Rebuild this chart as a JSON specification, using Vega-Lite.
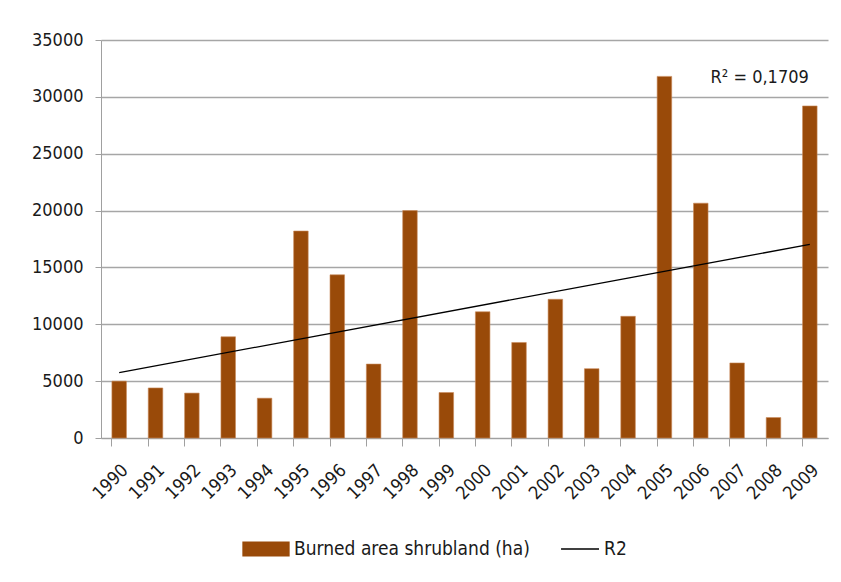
{
  "$schema": "https://vega.github.io/schema/vega-lite/v6.json",
  "width": 727,
  "height": 398,
  "autosize": {"type": "none"},
  "padding": {"left": 101, "top": 40, "right": 13, "bottom": 144},
  "background": "white",
  "datasets": {
    "bars": [
      {"year": "1990", "area": 5000},
      {"year": "1991", "area": 4400},
      {"year": "1992", "area": 3950},
      {"year": "1993", "area": 8900},
      {"year": "1994", "area": 3500},
      {"year": "1995", "area": 18200},
      {"year": "1996", "area": 14350},
      {"year": "1997", "area": 6500},
      {"year": "1998", "area": 20000},
      {"year": "1999", "area": 4000},
      {"year": "2000", "area": 11100},
      {"year": "2001", "area": 8400},
      {"year": "2002", "area": 12200},
      {"year": "2003", "area": 6100},
      {"year": "2004", "area": 10700},
      {"year": "2005", "area": 31800},
      {"year": "2006", "area": 20650},
      {"year": "2007", "area": 6600},
      {"year": "2008", "area": 1800},
      {"year": "2009", "area": 29200}
    ],
    "trend": [
      {"year": "1990", "area": 5750},
      {"year": "2009", "area": 17030}
    ],
    "label": [
      {"year": "2009", "area": 31700, "text": "R² = 0,1709"}
    ]
  },
  "config": {
    "font": "DejaVu Sans Condensed",
    "view": {"stroke": null},
    "axis": {
      "labelFont": "DejaVu Sans Condensed",
      "labelFontSize": 18,
      "labelColor": "#1a1a1a",
      "domainColor": "#a0a0a0",
      "tickColor": "#a0a0a0",
      "gridColor": "#a6a6a6",
      "title": null
    },
    "legend": {
      "labelFont": "DejaVu Sans Condensed",
      "labelFontSize": 19,
      "labelColor": "#1a1a1a",
      "labelLimit": 0
    }
  },
  "encoding": {
    "x": {
      "field": "year",
      "type": "ordinal",
      "scale": {"paddingInner": 0.6, "paddingOuter": 0.3},
      "axis": {
        "labelAngle": -45,
        "bandPosition": 0,
        "tickSize": 8,
        "grid": false,
        "labelPadding": 15,
        "title": null
      }
    },
    "y": {
      "field": "area",
      "type": "quantitative",
      "scale": {"domain": [0, 35000]},
      "axis": {
        "values": [0, 5000, 10000, 15000, 20000, 25000, 30000, 35000],
        "format": "d",
        "tickSize": 6,
        "labelPadding": 12,
        "gridWidth": 1.5,
        "title": null
      }
    }
  },
  "layer": [
    {
      "data": {"name": "bars"},
      "mark": {"type": "bar", "stroke": "#c98a5a", "strokeWidth": 0.6},
      "encoding": {
        "color": {
          "datum": "Burned area shrubland (ha)",
          "scale": {
            "domain": ["Burned area shrubland (ha)", "R2"],
            "range": ["#994a09", "#000000"]
          },
          "legend": {
            "orient": "none",
            "direction": "horizontal",
            "legendX": 141,
            "legendY": 485,
            "title": null,
            "columnPadding": 22,
            "labelOffset": 4,
            "labelLimit": 0,
            "symbolSize": 2116,
            "encode": {
              "symbols": {
                "update": {
                  "shape": {"signal": "datum.value === 'R2' ? 'M-0.65,0H1' : 'M-1,-0.3H1V0.3H-1Z'"},
                  "fill": {"signal": "datum.value === 'R2' ? 'transparent' : '#994a09'"},
                  "stroke": {"signal": "datum.value === 'R2' ? '#000000' : '#994a09'"},
                  "strokeWidth": {"value": 1.3},
                  "opacity": {"value": 1}
                }
              }
            }
          }
        }
      }
    },
    {
      "data": {"name": "trend"},
      "mark": {"type": "line", "strokeWidth": 1.3},
      "encoding": {
        "color": {
          "datum": "R2",
          "legend": {
            "orient": "none",
            "direction": "horizontal",
            "legendX": 141,
            "legendY": 485,
            "title": null,
            "columnPadding": 22,
            "labelOffset": 4,
            "labelLimit": 0,
            "symbolSize": 2116,
            "encode": {
              "symbols": {
                "update": {
                  "shape": {"signal": "datum.value === 'R2' ? 'M-0.65,0H1' : 'M-1,-0.3H1V0.3H-1Z'"},
                  "fill": {"signal": "datum.value === 'R2' ? 'transparent' : '#994a09'"},
                  "stroke": {"signal": "datum.value === 'R2' ? '#000000' : '#994a09'"},
                  "strokeWidth": {"value": 1.3},
                  "opacity": {"value": 1}
                }
              }
            }
          }
        }
      }
    },
    {
      "data": {"name": "label"},
      "mark": {"type": "text", "align": "right", "baseline": "middle", "fontSize": 18, "color": "#1a1a1a", "dx": -1},
      "encoding": {
        "text": {"field": "text"}
      }
    }
  ]
}
